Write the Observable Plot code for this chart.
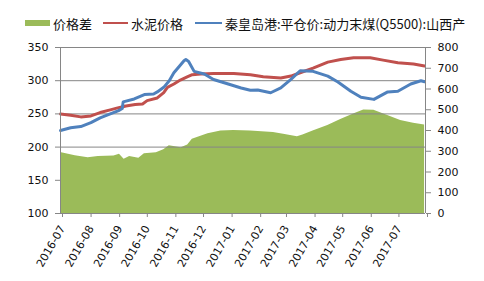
<!DOCTYPE html>
<html>
<head>
<meta charset="utf-8">
<script src="https://cdn.jsdelivr.net/npm/d3@7"></script>
<script src="https://cdn.jsdelivr.net/npm/@observablehq/plot@0.6"></script>
<style>
  html, body { margin: 0; padding: 0; background: #fff; }
  body { width: 484px; height: 281px; overflow: hidden; font-family: "DejaVu Sans", "Noto Sans CJK SC", sans-serif; }
  #legend { position: relative; height: 38px; font-size: 13px; color: #111; font-family: "Noto Sans CJK SC", sans-serif; }
  #legend .item { position: absolute; top: 15px; height: 16px; display: flex; align-items: center; white-space: nowrap; }
  #legend .sw { display: inline-block; margin-right: 3px; }
</style>
</head>
<body>
<div id="legend"></div>
<div id="chart"></div>
<script>
// Series names
const seriesNames = ["价格差", "水泥价格", "秦皇岛港:平仓价:动力末煤(Q5500):山西产"];
const seriesColors = ["#9BBB59", "#C0504D", "#4F81BD"];

// 价格差 (right axis)
const gapDates = ["2016-07-01","2016-07-17","2016-07-31","2016-08-11","2016-08-28","2016-09-03","2016-09-08","2016-09-14","2016-09-24","2016-09-30","2016-10-13","2016-10-21","2016-10-27","2016-11-04","2016-11-09","2016-11-16","2016-11-21","2016-12-08","2016-12-22","2017-01-05","2017-01-23","2017-02-17","2017-02-28","2017-03-15","2017-03-21","2017-04-01","2017-04-17","2017-05-01","2017-05-15","2017-05-26","2017-06-06","2017-06-21","2017-07-05","2017-07-19","2017-07-31"];
const gapValues = [294,278,269,275,277,285,262,275,266,288,293,307,326,320,317,330,358,384,397,400,397,390,382,370,378,397,424,453,480,499,498,472,448,435,427];

// 水泥价格 (left axis)
const cementDates = ["2016-07-01","2016-07-12","2016-07-23","2016-08-03","2016-08-13","2016-08-24","2016-09-01","2016-09-10","2016-09-20","2016-09-28","2016-10-03","2016-10-14","2016-10-21","2016-10-25","2016-11-01","2016-11-08","2016-11-16","2016-11-21","2016-11-30","2016-12-14","2017-01-05","2017-01-23","2017-02-06","2017-02-25","2017-03-08","2017-03-18","2017-04-01","2017-04-17","2017-05-01","2017-05-15","2017-06-02","2017-06-16","2017-07-02","2017-07-19","2017-07-31"];
const cementValues = [250,248,245.5,247,252,256,259,262,264,265,270,274,282,290,295,301,306,309,310,311,311,309,306,304,307,312,319,328,332,334.5,334.5,331,327,325,322];

// 秦皇岛港 动力末煤 (right axis)
const coalDates = ["2016-07-01","2016-07-12","2016-07-23","2016-08-03","2016-08-13","2016-08-24","2016-09-02","2016-09-06","2016-09-07","2016-09-19","2016-09-30","2016-10-10","2016-10-14","2016-10-21","2016-10-27","2016-11-01","2016-11-07","2016-11-12","2016-11-14","2016-11-17","2016-11-23","2016-12-04","2016-12-14","2016-12-30","2017-01-13","2017-01-23","2017-01-31","2017-02-14","2017-02-25","2017-03-08","2017-03-18","2017-04-01","2017-04-17","2017-04-28","2017-05-12","2017-05-23","2017-06-06","2017-06-21","2017-07-02","2017-07-16","2017-07-27","2017-07-31"];
const coalValues = [400,413,419,438,461,480,496,506,538,552,573,576,586,608,640,678,710,736,742,733,685,672,646,624,605,594,595,582,605,646,688,685,662,634,589,560,550,586,589,624,640,635];

// Axes ticks
const leftTicks = [100,150,200,250,300,350];
const rightTicks = [0,100,200,300,400,500,600,700,800];
const monthTicks = ["2016-07","2016-08","2016-09","2016-10","2016-11","2016-12","2017-01","2017-02","2017-03","2017-04","2017-05","2017-06","2017-07","2017-08"];
const monthLabels = ["2016-07","2016-08","2016-09","2016-10","2016-11","2016-12","2017-01","2017-02","2017-03","2017-04","2017-05","2017-06","2017-07",""];

const parse = d3.utcParse("%Y-%m-%d");
const parseM = d3.utcParse("%Y-%m");
const toLeft = v => 100 + v / 3.2;

const gap = d3.zip(gapDates, gapValues).map(([d, v]) => ({date: parse(d), v}));
const cement = d3.zip(cementDates, cementValues).map(([d, v]) => ({date: parse(d), v}));
const coal = d3.zip(coalDates, coalValues).map(([d, v]) => ({date: parse(d), v}));
const mTicks = monthTicks.map(parseM);
const labelOf = new Map(mTicks.map((t, i) => [+t, monthLabels[i]]));
const x0 = mTicks[0], x1 = mTicks[mTicks.length - 1];

// Legend
const legend = document.getElementById("legend");
const legendPos = [25, 103, 195];
const swW = [25, 25, 27];
seriesNames.forEach((name, i) => {
  const it = document.createElement("div");
  it.className = "item";
  it.style.left = legendPos[i] + "px";
  const sw = document.createElement("span");
  sw.className = "sw";
  sw.style.width = swW[i] + "px";
  sw.style.height = i === 0 ? "6px" : "2.5px";
  sw.style.background = seriesColors[i];
  it.appendChild(sw);
  const t = document.createElement("span");
  t.textContent = name;
  it.appendChild(t);
  legend.appendChild(it);
});

const axisColor = "#868686";
const chart = Plot.plot({
  width: 484,
  height: 243,
  marginLeft: 60,
  marginRight: 59,
  marginTop: 9,
  marginBottom: 68,
  style: {fontFamily: "DejaVu Sans, sans-serif", fontSize: "11px", color: "#111", background: "#fff"},
  x: {type: "utc", domain: [x0, x1]},
  y: {domain: [100, 350]},
  marks: [
    Plot.areaY(gap, {x: "date", y1: 100, y2: d => toLeft(d.v), fill: seriesColors[0], fillOpacity: 1}),
    Plot.ruleY([200, 250, 300, 350], {stroke: axisColor, strokeWidth: 1}),
    Plot.lineY(cement, {x: "date", y: "v", stroke: seriesColors[1], strokeWidth: 3}),
    Plot.lineY(coal, {x: "date", y: d => toLeft(d.v), stroke: seriesColors[2], strokeWidth: 3}),
    Plot.ruleX([x0, x1], {stroke: axisColor, strokeWidth: 1}),
    Plot.ruleY([100], {stroke: axisColor, strokeWidth: 1}),
    Plot.axisY(leftTicks, {anchor: "left", tickSize: 5, tickPadding: 7, stroke: axisColor, fill: "#111", label: null}),
    Plot.axisY(rightTicks.map(toLeft), {anchor: "right", tickSize: 5, tickPadding: 7, stroke: axisColor, fill: "#111", label: null, tickFormat: d => String(Math.round((d - 100) * 3.2))}),
    Plot.axisX(mTicks, {anchor: "bottom", tickSize: 4, tickPadding: 9, dx: 2, tickRotate: -60, stroke: axisColor, fill: "#111", label: null, tickFormat: d => labelOf.get(+d)})
  ]
});
document.getElementById("chart").appendChild(chart);
</script>
</body>
</html>
